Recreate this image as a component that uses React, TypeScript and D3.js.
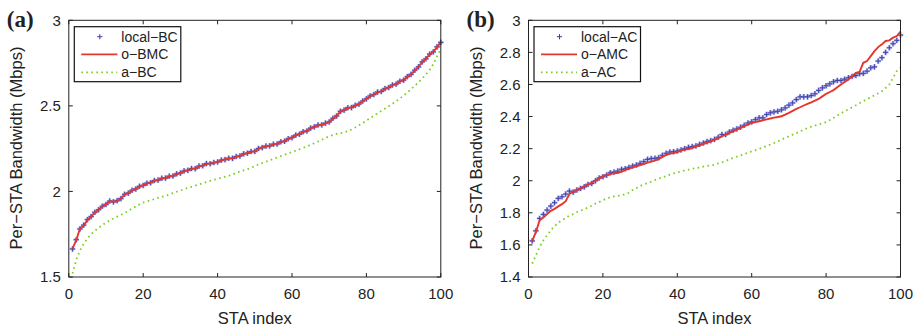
import React from "react";
import * as d3 from "d3";

// STA index 1..100
const staIndex = d3.range(1, 101);

const xTicks = [0, 20, 40, 60, 80, 100];
const yTicksA = [1.5, 2, 2.5, 3];
const yTicksB = [1.4, 1.6, 1.8, 2, 2.2, 2.4, 2.6, 2.8, 3];

// panel (a)
const localBC = [
  1.664, 1.718, 1.781, 1.803, 1.835, 1.853, 1.878, 1.893, 1.913, 1.924,
  1.944, 1.939, 1.946, 1.958, 1.983, 1.99, 2.007, 2.014, 2.03, 2.035,
  2.048, 2.051, 2.064, 2.066, 2.077, 2.078, 2.089, 2.09, 2.103, 2.107,
  2.12, 2.123, 2.134, 2.133, 2.148, 2.15, 2.163, 2.162, 2.169, 2.172,
  2.183, 2.186, 2.194, 2.193, 2.204, 2.207, 2.22, 2.223, 2.233, 2.234,
  2.251, 2.256, 2.265, 2.266, 2.276, 2.277, 2.29, 2.293, 2.308, 2.314,
  2.329, 2.334, 2.349, 2.353, 2.37, 2.377, 2.388, 2.389, 2.399, 2.406,
  2.427, 2.441, 2.468, 2.475, 2.489, 2.49, 2.503, 2.51, 2.528, 2.541,
  2.558, 2.566, 2.581, 2.584, 2.601, 2.607, 2.622, 2.627, 2.644, 2.65,
  2.671, 2.684, 2.708, 2.728, 2.757, 2.775, 2.802, 2.816, 2.845, 2.871,
];
const oBMC = [
  1.666, 1.715, 1.783, 1.8, 1.832, 1.855, 1.875, 1.895, 1.91, 1.926,
  1.941, 1.941, 1.943, 1.96, 1.98, 1.992, 2.004, 2.016, 2.027, 2.037,
  2.045, 2.053, 2.061, 2.068, 2.074, 2.08, 2.086, 2.092, 2.1, 2.109,
  2.117, 2.125, 2.131, 2.135, 2.145, 2.152, 2.16, 2.164, 2.166, 2.174,
  2.18, 2.188, 2.191, 2.195, 2.201, 2.209, 2.217, 2.225, 2.23, 2.236,
  2.248, 2.258, 2.262, 2.268, 2.273, 2.279, 2.287, 2.295, 2.305, 2.316,
  2.326, 2.336, 2.346, 2.355, 2.367, 2.379, 2.385, 2.391, 2.396, 2.408,
  2.424, 2.443, 2.465, 2.477, 2.486, 2.492, 2.5, 2.512, 2.525, 2.543,
  2.555, 2.568, 2.578, 2.586, 2.598, 2.609, 2.619, 2.629, 2.641, 2.652,
  2.668, 2.686, 2.705, 2.73, 2.754, 2.777, 2.799, 2.818, 2.842, 2.873,
];
const aBC = [
  1.52, 1.6, 1.655, 1.695, 1.725, 1.75, 1.77, 1.787, 1.803, 1.818,
  1.83, 1.842, 1.853, 1.863, 1.873, 1.887, 1.9, 1.912, 1.925, 1.935,
  1.942, 1.948, 1.955, 1.962, 1.968, 1.975, 1.982, 1.99, 1.998, 2.006,
  2.013, 2.02, 2.027, 2.034, 2.041, 2.048, 2.055, 2.062, 2.068, 2.074,
  2.08, 2.086, 2.092, 2.098, 2.11, 2.116, 2.123, 2.13, 2.138, 2.148,
  2.158, 2.166, 2.174, 2.182, 2.19, 2.198, 2.206, 2.214, 2.222, 2.23,
  2.238, 2.246, 2.254, 2.263, 2.272, 2.282, 2.292, 2.302, 2.312, 2.322,
  2.33, 2.336, 2.34, 2.345, 2.352, 2.362, 2.374, 2.387, 2.4, 2.414,
  2.428, 2.442, 2.456, 2.47, 2.484, 2.498, 2.512, 2.527, 2.543, 2.56,
  2.578, 2.597, 2.617, 2.638, 2.66, 2.684, 2.71, 2.745, 2.79, 2.83,
];

// panel (b)
const localAC = [
  1.625, 1.688, 1.765, 1.79, 1.817, 1.842, 1.863, 1.89, 1.9, 1.917,
  1.935, 1.929, 1.942, 1.952, 1.962, 1.977, 1.983, 2.0, 2.017, 2.025,
  2.035, 2.05, 2.054, 2.06, 2.071, 2.075, 2.083, 2.092, 2.098, 2.108,
  2.119, 2.133, 2.138, 2.14, 2.144, 2.158, 2.171, 2.179, 2.181, 2.185,
  2.192, 2.2, 2.208, 2.213, 2.217, 2.227, 2.235, 2.244, 2.25, 2.258,
  2.271, 2.288, 2.288, 2.304, 2.315, 2.323, 2.333, 2.346, 2.36, 2.367,
  2.381, 2.392, 2.392, 2.413, 2.423, 2.429, 2.433, 2.442, 2.454, 2.471,
  2.485, 2.506, 2.523, 2.523, 2.523, 2.531, 2.542, 2.563, 2.579, 2.592,
  2.604, 2.617, 2.625, 2.625, 2.633, 2.642, 2.65, 2.656, 2.667, 2.669,
  2.683, 2.704, 2.71, 2.746, 2.767, 2.8, 2.829, 2.854, 2.875, 2.908,
];
const oAMC = [
  1.625, 1.681, 1.754, 1.771, 1.792, 1.812, 1.825, 1.84, 1.854, 1.873,
  1.917, 1.931, 1.942, 1.952, 1.967, 1.975, 1.988, 2.0, 2.015, 2.029,
  2.035, 2.042, 2.046, 2.05, 2.056, 2.067, 2.075, 2.083, 2.09, 2.098,
  2.104, 2.113, 2.119, 2.125, 2.135, 2.15, 2.16, 2.169, 2.173, 2.179,
  2.188, 2.194, 2.198, 2.204, 2.213, 2.221, 2.229, 2.238, 2.246, 2.256,
  2.266, 2.277, 2.287, 2.298, 2.308, 2.319, 2.329, 2.34, 2.35, 2.36,
  2.365, 2.371, 2.377, 2.382, 2.388, 2.393, 2.397, 2.402, 2.412, 2.423,
  2.435, 2.448, 2.458, 2.469, 2.479, 2.489, 2.5, 2.51, 2.526, 2.542,
  2.553, 2.565, 2.583, 2.6, 2.615, 2.631, 2.652, 2.673, 2.679, 2.735,
  2.746, 2.777, 2.808, 2.833, 2.85, 2.871, 2.875, 2.892, 2.902, 2.929,
];
const aAC = [
  1.483, 1.535, 1.588, 1.629, 1.66, 1.692, 1.717, 1.738, 1.754, 1.769,
  1.783, 1.792, 1.804, 1.813, 1.823, 1.833, 1.844, 1.858, 1.867, 1.879,
  1.89, 1.896, 1.902, 1.906, 1.91, 1.917, 1.925, 1.942, 1.954, 1.967,
  1.977, 1.985, 1.994, 2.004, 2.013, 2.021, 2.029, 2.038, 2.046, 2.052,
  2.058, 2.065, 2.069, 2.075, 2.079, 2.083, 2.088, 2.092, 2.096, 2.1,
  2.108, 2.115, 2.123, 2.133, 2.142, 2.15, 2.158, 2.166, 2.174, 2.183,
  2.191, 2.199, 2.208, 2.216, 2.225, 2.235, 2.245, 2.256, 2.267, 2.277,
  2.287, 2.297, 2.308, 2.318, 2.329, 2.337, 2.344, 2.351, 2.358, 2.365,
  2.378, 2.392, 2.406, 2.42, 2.433, 2.445, 2.458, 2.47, 2.483, 2.496,
  2.508, 2.52, 2.533, 2.545, 2.558, 2.578, 2.6, 2.642, 2.683, 2.704,
];

const sans = "'Liberation Sans', Arial, Helvetica, sans-serif";
const RED = "#e5362b";
const GREEN = "#7ccf1e";
const BLUE = "#3b3bb0";
const HALO = "#a9aee0";

const crossPath = (cx, cy, r) => `M${cx - r},${cy}h${2 * r}M${cx},${cy - r}v${2 * r}`;

const Panel = ({ left, tag, yDomain, yTicks, cross, solid, dotted, names }) => {
  const top = 20.3;
  const bottom = 277;
  const width = 372;
  const x = d3.scaleLinear().domain([0, 100]).range([left, left + width]);
  const y = d3.scaleLinear().domain(yDomain).range([bottom, top]);
  const line = d3
    .line()
    .x((_, i) => x(staIndex[i]))
    .y((d) => y(d));

  const lx = left + 5.5;
  const rows = [36.7, 54.4, 72.3];

  return (
    <g>
      {/* crosses first, red goes on top */}
      <g fill="none">
        {cross.map((v, i) => (
          <path key={"h" + i} d={crossPath(x(staIndex[i]), y(v), 2.8)} stroke={HALO} strokeWidth={2.2} />
        ))}
        {cross.map((v, i) => (
          <path key={"c" + i} d={crossPath(x(staIndex[i]), y(v), 2.6)} stroke={BLUE} strokeWidth={0.9} />
        ))}
      </g>
      <path d={line(dotted)} fill="none" stroke={GREEN} strokeWidth={1.8} strokeDasharray="1.6,3.4" />
      <path d={line(solid)} fill="none" stroke={RED} strokeWidth={1.9} />

      {/* box + inward ticks */}
      <rect x={left} y={top} width={width} height={bottom - top} fill="none" stroke="#222" strokeWidth={1} />
      {xTicks.map((t) => (
        <g key={"x" + t}>
          <line x1={x(t)} x2={x(t)} y1={bottom} y2={bottom - 4} stroke="#222" />
          <line x1={x(t)} x2={x(t)} y1={top} y2={top + 4} stroke="#222" />
          <text x={x(t)} y={299} textAnchor="middle" fontFamily={sans} fontSize={15} fill="#222">
            {t}
          </text>
        </g>
      ))}
      {yTicks.map((t) => (
        <g key={"y" + t}>
          <line x1={left} x2={left + 4} y1={y(t)} y2={y(t)} stroke="#222" />
          <line x1={left + width} x2={left + width - 4} y1={y(t)} y2={y(t)} stroke="#222" />
          <text x={left - 8} y={y(t)} dy="0.36em" textAnchor="end" fontFamily={sans} fontSize={15} fill="#222">
            {String(t)}
          </text>
        </g>
      ))}

      <text x={left + width / 2} y={324} textAnchor="middle" fontFamily={sans} fontSize={16.5} fill="#222">
        STA index
      </text>
      <text
        transform={`translate(${left - 47},148) rotate(-90)`}
        textAnchor="middle"
        fontFamily={sans}
        fontSize={16.5}
        fill="#222"
      >
        Per−STA Bandwidth (Mbps)
      </text>
      <text
        x={left - 62}
        y={27}
        fontFamily="'Liberation Serif', 'Times New Roman', serif"
        fontWeight="bold"
        fontSize={23}
        fill="#222"
      >
        {tag}
      </text>

      {/* legend */}
      <rect x={lx} y={26.7} width={106.5} height={55} fill="white" stroke="#111" strokeWidth={1.2} />
      <path d={crossPath(lx + 25.5, rows[0], 2.6)} stroke={BLUE} strokeWidth={1} />
      <line x1={lx + 7} x2={lx + 43} y1={rows[1]} y2={rows[1]} stroke={RED} strokeWidth={1.9} />
      <line x1={lx + 7} x2={lx + 43} y1={rows[2]} y2={rows[2]} stroke={GREEN} strokeWidth={1.8} strokeDasharray="1.6,3.4" />
      {names.map((n, i) => (
        <text key={n} x={lx + 47} y={rows[i]} dy="0.36em" fontFamily={sans} fontSize={14} fill="#222">
          {n}
        </text>
      ))}
    </g>
  );
};

export default function App() {
  return (
    <div style={{ position: "fixed", left: 0, top: 0 }}>
      <svg width={917} height={327} style={{ display: "block", background: "white" }}>
        <Panel
          left={68.8}
          tag="(a)"
          yDomain={[1.5, 3]}
          yTicks={yTicksA}
          cross={localBC}
          solid={oBMC}
          dotted={aBC}
          names={["local−BC", "o−BMC", "a−BC"]}
        />
        <Panel
          left={528.5}
          tag="(b)"
          yDomain={[1.4, 3]}
          yTicks={yTicksB}
          cross={localAC}
          solid={oAMC}
          dotted={aAC}
          names={["local−AC", "o−AMC", "a−AC"]}
        />
      </svg>
    </div>
  );
}
